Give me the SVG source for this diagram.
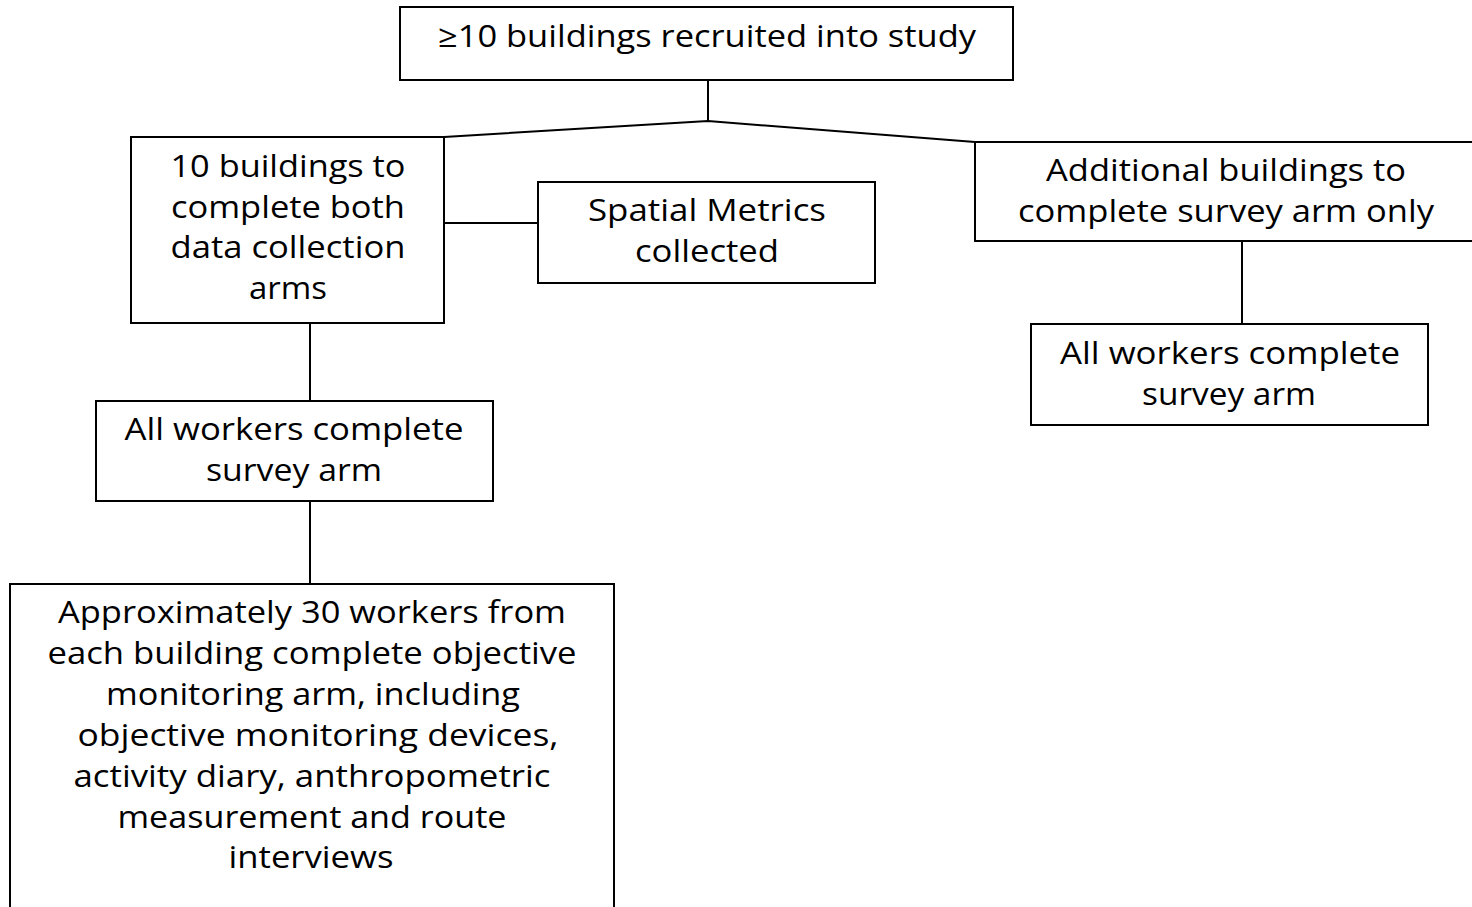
<svg xmlns="http://www.w3.org/2000/svg" width="1472" height="907" viewBox="0 0 1472 907">
<style>
.box{fill:#fff;stroke:#000;stroke-width:2}
.ln{stroke:#000;stroke-width:2;fill:none}
text{font-family:"Open Sans","Noto Sans",sans-serif;font-size:31px;fill:#000;text-anchor:middle}
</style>
<rect x="0" y="0" width="1472" height="907" fill="#fff"/>
<g id="connectors">
<line class="ln" x1="708" y1="80" x2="708" y2="121"/>
<polyline class="ln" points="444,137 708,121 975,142"/>
<line class="ln" x1="444" y1="223" x2="538" y2="223"/>
<line class="ln" x1="310" y1="323" x2="310" y2="401"/>
<line class="ln" x1="310" y1="501" x2="310" y2="584"/>
<line class="ln" x1="1242" y1="241" x2="1242" y2="324"/>
</g>
<g id="n-top">
<rect class="box" x="400" y="7" width="613" height="73"/>
<text x="707" y="47" textLength="538" lengthAdjust="spacingAndGlyphs">≥10 buildings recruited into study</text>
</g>
<g id="n-ten">
<rect class="box" x="131" y="137" width="313" height="186"/>
<text x="288" y="177" textLength="235" lengthAdjust="spacingAndGlyphs">10 buildings to</text>
<text x="288" y="218" textLength="234" lengthAdjust="spacingAndGlyphs">complete both</text>
<text x="288" y="258" textLength="235" lengthAdjust="spacingAndGlyphs">data collection</text>
<text x="288" y="299" textLength="78" lengthAdjust="spacingAndGlyphs">arms</text>
</g>
<g id="n-spatial">
<rect class="box" x="538" y="182" width="337" height="101"/>
<text x="707" y="221" textLength="238" lengthAdjust="spacingAndGlyphs">Spatial Metrics</text>
<text x="707" y="262" textLength="144" lengthAdjust="spacingAndGlyphs">collected</text>
</g>
<g id="n-additional">
<rect class="box" x="975" y="142" width="500" height="99"/>
<text x="1226" y="181" textLength="360" lengthAdjust="spacingAndGlyphs">Additional buildings to</text>
<text x="1226" y="222" textLength="416" lengthAdjust="spacingAndGlyphs">complete survey arm only</text>
</g>
<g id="n-survey-right">
<rect class="box" x="1031" y="324" width="397" height="101"/>
<text x="1230" y="364" textLength="340" lengthAdjust="spacingAndGlyphs">All workers complete</text>
<text x="1229" y="405" textLength="174" lengthAdjust="spacingAndGlyphs">survey arm</text>
</g>
<g id="n-survey-left">
<rect class="box" x="96" y="401" width="397" height="100"/>
<text x="294" y="440" textLength="339" lengthAdjust="spacingAndGlyphs">All workers complete</text>
<text x="294" y="481" textLength="176" lengthAdjust="spacingAndGlyphs">survey arm</text>
</g>
<g id="n-objective">
<rect class="box" x="10" y="584" width="604" height="330"/>
<text x="312" y="623" textLength="508" lengthAdjust="spacingAndGlyphs">Approximately 30 workers from</text>
<text x="312" y="664" textLength="529" lengthAdjust="spacingAndGlyphs">each building complete objective</text>
<text x="313" y="705" textLength="414" lengthAdjust="spacingAndGlyphs">monitoring arm, including</text>
<text x="318" y="746" textLength="481" lengthAdjust="spacingAndGlyphs">objective monitoring devices,</text>
<text x="312" y="787" textLength="477" lengthAdjust="spacingAndGlyphs">activity diary, anthropometric</text>
<text x="312" y="828" textLength="389" lengthAdjust="spacingAndGlyphs">measurement and route</text>
<text x="311" y="868" textLength="165" lengthAdjust="spacingAndGlyphs">interviews</text>
</g>
</svg>
